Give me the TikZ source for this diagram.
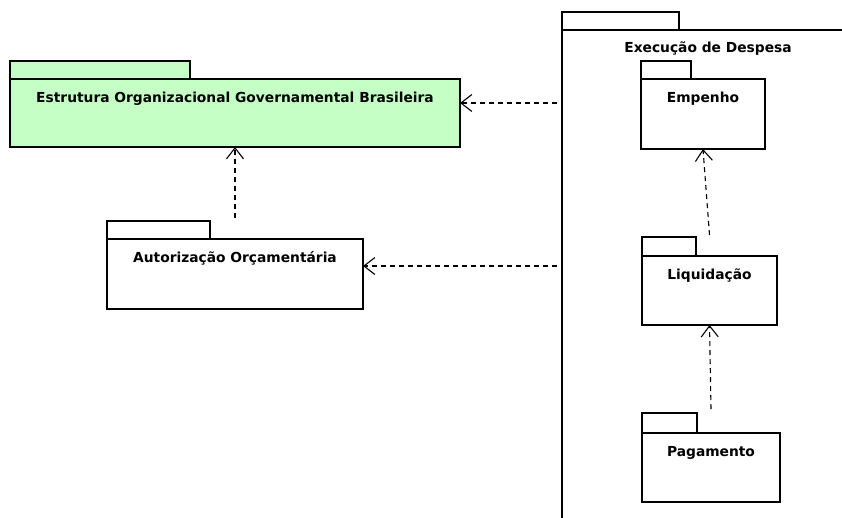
\documentclass[tikz,border=0pt]{standalone}
\usepackage{fontspec}
\setmainfont{DejaVu Sans}
\usetikzlibrary{arrows.meta}
\definecolor{pkggreen}{HTML}{C6FFC6}
\tikzset{
  pkgline/.style={draw=black, line width=2pt},
  pkgbody/.style={pkgline, anchor=north west, inner sep=0pt, outer sep=0pt, fill=white},
  pkgtitle/.style={anchor=base, font=\bfseries\fontsize{13.8}{16}\selectfont, inner sep=0pt},
  dep/.style={draw=black, line width=1.1pt, dash pattern=on 5pt off 4pt,
    -{Straight Barb[length=11pt,width=17pt,line width=1.1pt]}}
}
\begin{document}
\begin{tikzpicture}[x=1pt,y=-1pt]
\useasboundingbox[fill=white] (0,0) rectangle (842,517);

% --- Estrutura Organizacional Governamental Brasileira
\draw[pkgline, fill=pkggreen] (10,79) rectangle (190,61);
\node[pkgbody, fill=pkggreen, minimum width=450pt, minimum height=68pt] (estr) at (10,79) {};
\node[pkgtitle] (estrT) at ([yshift=-23.5pt]estr.north) {Estrutura Organizacional Governamental Brasileira};

% --- Autorizacao Orcamentaria
\draw[pkgline, fill=white] (107,239) rectangle (210,221);
\node[pkgbody, minimum width=256pt, minimum height=70pt] (aut) at (107,239) {};
\node[pkgtitle] (autT) at ([yshift=-23.5pt]aut.north) {Autorização Orçamentária};

% --- Execucao de Despesa (container, open to the right and below)
\coordinate (execTL) at (562,30);
\draw[pkgline] (562,30) rectangle (679,12);
\draw[pkgline] (850,30) -- (execTL) -- (562,525);
\node[pkgtitle] (execT) at (708,52.5) {Execução de Despesa};

% --- Empenho
\draw[pkgline] (641,79) rectangle (691,61);
\node[pkgbody, minimum width=124pt, minimum height=70pt] (emp) at (641,79) {};
\node[pkgtitle] (empT) at ([yshift=-23.5pt]emp.north) {Empenho};

% --- Liquidacao
\draw[pkgline] (642,256) rectangle (696,237);
\node[pkgbody, minimum width=135pt, minimum height=69pt] (liq) at (642,256) {};
\node[pkgtitle] (liqT) at ([yshift=-23.5pt]liq.north) {Liquidação};

% --- Pagamento
\draw[pkgline] (642,433) rectangle (697,413);
\node[pkgbody, minimum width=138pt, minimum height=69pt] (pag) at (642,433) {};
\node[pkgtitle] (pagT) at ([yshift=-23.5pt]pag.north) {Pagamento};

% --- dependencies
\coordinate (execA) at (557,103);
\coordinate (execB) at (557,266);
\draw[dep] (execA) -- (estr.east |- execA);
\draw[dep] (execB) -- (aut.east |- execB);
\draw[dep] ([yshift=21pt]aut.north) -- (estr.south);
\draw[dep] ([yshift=21pt]liq.north) -- (emp.south);
\draw[dep] ([yshift=24pt]pag.north) -- (liq.south);
\end{tikzpicture}
\end{document}
